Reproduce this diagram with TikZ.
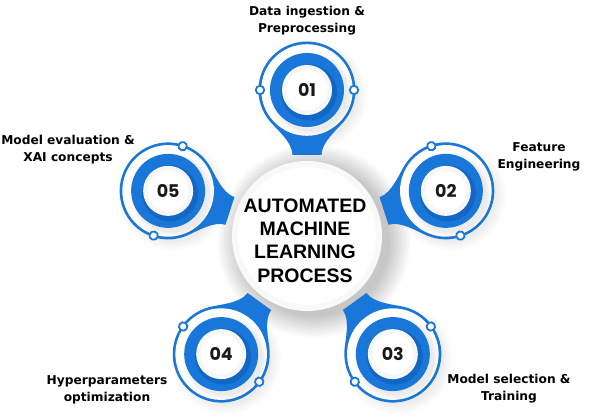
\documentclass[tikz,border=0pt]{standalone}
\usepackage{fontspec}
\setmainfont{DejaVu Sans}
\newfontfamily\numfont{Poppins}
\newfontfamily\titlefont{Liberation Sans}
\usetikzlibrary{calc}
\definecolor{mblue}{RGB}{24,119,216}
\definecolor{dblue}{RGB}{14,88,178}
\tikzset{
  lbl/.style={font=\bfseries\fontsize{12.2}{17}\selectfont, align=center, text=black, inner sep=0pt},
  numtxt/.style={font=\numfont\bfseries\fontsize{17.5}{17.5}\selectfont, text=black!90, inner sep=0pt},
  dotc/.style={fill=white, draw=mblue, line width=1.8pt},
  shadowc/.style={fill=black, opacity=0.016}
}
\begin{document}
\begin{tikzpicture}[x=1pt,y=1pt]
\useasboundingbox (0,0) rectangle (599,419);
\fill[white] (0,0) rectangle (599,419);
\coordinate (C) at (307,183);

% soft shadow of main circle
\foreach \i in {1,...,14} \fill[shadowc] ($(C)+(7,-5)$) circle (74+\i*1.6);

% satellites
\foreach \a/\n in {90/01,18/02,-54/03,-126/04,162/05} {
  \coordinate (s\n) at ($(C)+(\a:146)$);
  % outer shadow
  \begin{scope}[shift={(s\n)}]
    \foreach \i in {1,...,6} \fill[black,opacity=0.012] (5,-5) circle (44+\i*1.8);
  \end{scope}
  \begin{scope}[shift={(s\n)}, rotate=\a+180]
    \fill[mblue] (31.2,37.2) .. controls (38.9,30.8) and (52,14.5) .. (65,14.5)
       -- (65,-14.5) .. controls (52,-14.5) and (38.9,-30.8) .. (31.2,-37.2)
       arc[start angle=-50, end angle=-310, radius=48.5] -- cycle;
    \fill[white] (0,0) circle (45.8);
  \end{scope}
  \begin{scope}[shift={(s\n)}]
    \foreach \i in {1,...,5} \fill[black,opacity=0.015] (4,-4) circle (36+\i*1.2);
    \fill[mblue] (0,0) circle (37);
    \fill[dblue, opacity=0.5] (2,-2.5) circle (28);
    \fill[white] (0,0) circle (25);
    \foreach \i in {1,...,4} \draw[black, opacity=0.03, line width=1pt] (0,0) circle (25-\i);
  \end{scope}
  \begin{scope}[shift={(s\n)}, rotate=\a+180]
    \filldraw[dotc] (0,47) circle (4.2);
    \filldraw[dotc] (0,-47) circle (4.2);
  \end{scope}
  \node[numtxt] (n\n) at (s\n) {\n};
}

% main circle
\fill[white] (C) circle (75);
\foreach \i in {1,...,5} \draw[black, opacity=0.025, line width=1.2pt] (C) circle (75.5-\i*1.2);
\node[circle, minimum size=150pt, inner sep=0pt] (main) at (C) {};
\node[font=\titlefont\bfseries\fontsize{19.5}{23.2}\selectfont, align=center, text=black, inner sep=0pt] (title) at (305,178.5) {AUTOMATED\\MACHINE\\LEARNING\\PROCESS};

% labels
\node[lbl] (l1) at (307,398) {Data ingestion \&\\Preprocessing};
\node[lbl] (l2) at (539,262) {Feature\\Engineering};
\node[lbl] (l3) at (509,30.5) {Model selection \&\\Training};
\node[lbl] (l4) at (107,29.5) {Hyperparameters\\optimization};
\node[lbl] (l5) at (68,269.5) {Model evaluation \&\\XAI concepts};
\end{tikzpicture}
\end{document}
